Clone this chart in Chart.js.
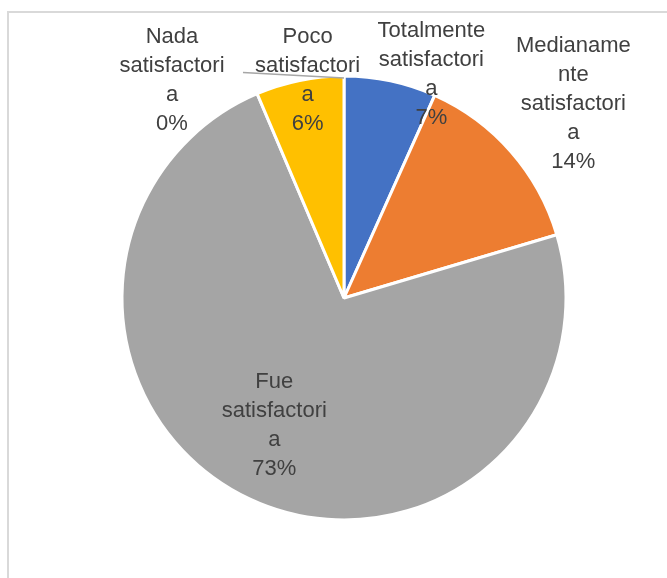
<!DOCTYPE html>
<html>
<head>
<meta charset="utf-8">
<script src="https://cdn.jsdelivr.net/npm/chart.js@4"></script>
<style>
  html, body { margin: 0; padding: 0; background: #fff; }
  #wrap { position: relative; width: 667px; height: 578px; overflow: hidden; }
  #frame { position: absolute; left: 7px; top: 11px; width: 700px; height: 600px;
           border-left: 2px solid #d9d9d9; border-top: 2px solid #d9d9d9; }
  canvas { position: absolute; left: 0; top: 0; }
</style>
</head>
<body>
<div id="wrap">
  <div id="frame"></div>
  <canvas id="myChart" width="667" height="578"></canvas>
</div>
<script>
const categorias = [
  "Totalmente satisfactoria",
  "Medianamente satisfactoria",
  "Fue satisfactoria",
  "Poco satisfactoria",
  "Nada satisfactoria",
];
const valores = [6.7, 13.7, 73.2, 6.4, 0];
// como Excel parte las etiquetas
const lineasEtiqueta = [
  ["Totalmente", "satisfactori", "a"],
  ["Medianame", "nte", "satisfactori", "a"],
  ["Fue", "satisfactori", "a"],
  ["Poco", "satisfactori", "a"],
  ["Nada", "satisfactori", "a"],
];
const colores = ["#4472C4", "#ED7D31", "#A5A5A5", "#FFC000", "#5B9BD5"];

// posicion de cada etiqueta: factor del radio sobre el angulo medio + ajuste
const ubicacion = [
  { r: 1.0, dx: 41, dy: -6 },
  { r: 1.2, dx: 29, dy: -19 },
  { r: 0.6, dx: -13, dy: 7 },
  { r: 1.0, dx: 8, dy: 0 },
  { r: 1.0, dx: -172, dy: 4, guia: true },
];

const etiquetas = {
  id: "etiquetas",
  afterDatasetsDraw(chart) {
    const ctx = chart.ctx;
    const arcs = chart.getDatasetMeta(0).data;
    const total = valores.reduce((a, b) => a + b, 0);
    ctx.save();
    ctx.font = "22px 'Liberation Sans', Arial, sans-serif";
    ctx.fillStyle = "#404040";
    ctx.textAlign = "center";
    ctx.textBaseline = "middle";
    arcs.forEach((arc, i) => {
      const p = arc.getProps(["x", "y", "startAngle", "endAngle", "outerRadius"], true);
      const mid = (p.startAngle + p.endAngle) / 2;
      const u = ubicacion[i];
      const ax = p.x + Math.cos(mid) * p.outerRadius * u.r;
      const ay = p.y + Math.sin(mid) * p.outerRadius * u.r;
      const lines = lineasEtiqueta[i].concat(Math.round(valores[i] / total * 100) + "%");
      const lh = 29;
      const cx = ax + u.dx;
      const cy = ay + u.dy;
      const y0 = cy - (lines.length - 1) * lh / 2;
      if (u.guia) {
        ctx.strokeStyle = "#a6a6a6";
        ctx.lineWidth = 1.5;
        ctx.beginPath();
        ctx.moveTo(p.x + Math.cos(mid) * (p.outerRadius - 2), p.y + Math.sin(mid) * (p.outerRadius - 2));
        ctx.lineTo(cx + 71, y0 + 36);
        ctx.stroke();
      }
      lines.forEach((t, k) => ctx.fillText(t, cx, y0 + k * lh));
    });
    ctx.restore();
  },
};

const ctx = document.getElementById("myChart");
const grafico = new Chart(ctx, {
  type: "pie",
  data: {
    labels: categorias,
    datasets: [
      {
        data: valores,
        backgroundColor: colores,
        borderColor: "#ffffff",
        borderWidth: 3,
        radius: 222,
      },
    ],
  },
  options: {
    responsive: false,
    animation: false,
    layout: { padding: { left: 21, top: 18, right: 0, bottom: 0 } },
    plugins: {
      legend: { display: false },
      tooltip: { enabled: false },
    },
  },
  plugins: [etiquetas],
});
</script>
</body>
</html>
